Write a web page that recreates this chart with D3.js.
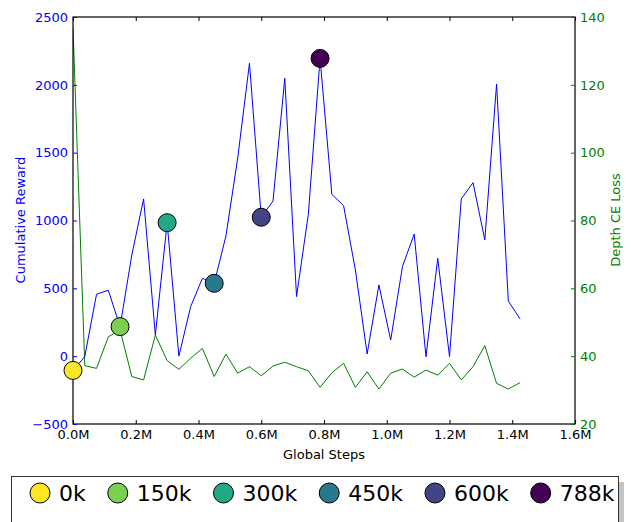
<!DOCTYPE html>
<html>
<head>
<meta charset="utf-8">
<script src="https://cdn.jsdelivr.net/npm/d3@7"></script>
<style>
  html, body { margin: 0; padding: 0; background: #fff; }
  svg { display: block; font-family: "DejaVu Sans", sans-serif; }
</style>
</head>
<body>
<svg id="chart" width="631" height="522"></svg>
<script>
const steps = [0, 37500, 75000, 112500, 150000, 187500, 225000, 262500, 300000, 337500,
  375000, 412500, 450000, 487500, 525000, 562500, 600000, 637500, 675000, 712500,
  750000, 787500, 825000, 862500, 900000, 937500, 975000, 1012500, 1050000, 1087500,
  1125000, 1162500, 1200000, 1237500, 1275000, 1312500, 1350000, 1387500, 1425000];
const rewards = [-105, -3, 456, 486, 218, 746, 1159, 156, 984, 0,
  365, 574, 537, 886, 1461, 2159, 1024, 1144, 2048, 439,
  1045, 2195, 1193, 1109, 636, 16, 525, 119, 660, 900,
  -4, 721, -3, 1159, 1279, 857, 2006, 407, 274];
const losses = [137, 37.2, 36.4, 45.7, 47.7, 34, 33, 46.2, 38.7, 36.1,
  39.4, 42.3, 34, 40.6, 35, 36.9, 34.2, 37.1, 38.2, 36.9,
  35.7, 30.8, 35.1, 37.9, 30.8, 35.4, 30.3, 35, 36.2, 33.8,
  35.9, 34.4, 37.9, 33, 36.9, 43.1, 32, 30.3, 32.2];
const markerSteps = [0, 150000, 300000, 450000, 600000, 787500];
const markerLabels = ["0k", "150k", "300k", "450k", "600k", "788k"];
const markerColors = ["#fde725", "#7ad151", "#22a884", "#2a788e", "#414487", "#440154"];
const xTicks = [0, 200000, 400000, 600000, 800000, 1000000, 1200000, 1400000, 1600000];
const yLeftTicks = [-500, 0, 500, 1000, 1500, 2000, 2500];
const yRightTicks = [20, 40, 60, 80, 100, 120, 140];

const svg = d3.select("#chart");
const L = 73, T = 17, W = 502, H = 407;
const x = d3.scaleLinear().domain([0, 1600000]).range([L, L + W]);
const yL = d3.scaleLinear().domain([-500, 2500]).range([T + H, T]);
const yR = d3.scaleLinear().domain([20, 140]).range([T + H, T]);

svg.append("defs").append("clipPath").attr("id", "clip")
  .append("rect").attr("x", L).attr("y", T).attr("width", W).attr("height", H);

// lines
const g = svg.append("g").attr("clip-path", "url(#clip)");
g.append("path").datum(steps.map((s, i) => [s, losses[i]]))
  .attr("fill", "none").attr("stroke", "#008000").attr("stroke-width", 1)
  .attr("d", d3.line().x(d => x(d[0])).y(d => yR(d[1])));
g.append("path").datum(steps.map((s, i) => [s, rewards[i]]))
  .attr("fill", "none").attr("stroke", "#0000ff").attr("stroke-width", 1)
  .attr("d", d3.line().x(d => x(d[0])).y(d => yL(d[1])));

// frame
svg.append("rect").attr("x", L).attr("y", T).attr("width", W).attr("height", H)
  .attr("fill", "none").attr("stroke", "#000").attr("stroke-width", 1.2);

// axes
const fmtM = d => (d / 1e6).toFixed(1) + "M";
const axB = svg.append("g").attr("transform", `translate(0,${T + H})`)
  .call(d3.axisBottom(x).tickValues(xTicks).tickFormat(fmtM).tickSizeInner(-4).tickSizeOuter(0).tickPadding(6));
const axT = svg.append("g").attr("transform", `translate(0,${T})`)
  .call(d3.axisTop(x).tickValues(xTicks).tickFormat("").tickSizeInner(-4).tickSizeOuter(0));
const axL = svg.append("g").attr("transform", `translate(${L},0)`)
  .call(d3.axisLeft(yL).tickValues(yLeftTicks).tickFormat(d3.format("d")).tickSizeInner(-4).tickSizeOuter(0).tickPadding(5));
const axR = svg.append("g").attr("transform", `translate(${L + W},0)`)
  .call(d3.axisRight(yR).tickValues(yRightTicks).tickFormat(d3.format("d")).tickSizeInner(-4).tickSizeOuter(0).tickPadding(5));

[axB, axT, axL, axR].forEach(a => {
  a.select(".domain").remove();
  a.selectAll("text").attr("font-size", 13).attr("font-family", "DejaVu Sans, sans-serif");
});
axB.selectAll("line").attr("stroke", "#000");
axB.selectAll("text").attr("fill", "#000");
axT.selectAll("line").attr("stroke", "#000");
axL.selectAll("line").attr("stroke", "#0000ff");
axL.selectAll("text").attr("fill", "#0000ff");
axR.selectAll("line").attr("stroke", "#008000");
axR.selectAll("text").attr("fill", "#008000");

// markers
const mData = markerSteps.map((s, i) => ({ s, v: rewards[steps.indexOf(s)], c: markerColors[i] }));
svg.append("g").selectAll("circle").data(mData).join("circle")
  .attr("cx", d => x(d.s)).attr("cy", d => yL(d.v)).attr("r", 9)
  .attr("fill", d => d.c).attr("stroke", "#000").attr("stroke-width", 1);

// axis labels
svg.append("text").attr("transform", "translate(25,220) rotate(-90)")
  .attr("text-anchor", "middle").attr("font-size", 13).attr("fill", "#0000ff")
  .text("Cumulative Reward");
svg.append("text").attr("transform", "translate(620,220) rotate(-90)")
  .attr("text-anchor", "middle").attr("font-size", 13).attr("fill", "#008000")
  .text("Depth CE Loss");
svg.append("text").attr("x", L + W / 2).attr("y", 459)
  .attr("text-anchor", "middle").attr("font-size", 13).attr("fill", "#000")
  .text("Global Steps");

// legend
const lg = svg.append("g");
lg.append("rect").attr("x", 17).attr("y", 482).attr("width", 607).attr("height", 60)
  .attr("fill", "#c4c4c4");
lg.append("rect").attr("x", 11.5).attr("y", 476.5).attr("width", 607).attr("height", 60)
  .attr("fill", "#fff").attr("stroke", "#333").attr("stroke-width", 1);
let cx = 30;
markerLabels.forEach((lab, i) => {
  lg.append("circle").attr("cx", cx + 10).attr("cy", 493).attr("r", 10)
    .attr("fill", markerColors[i]).attr("stroke", "#000").attr("stroke-width", 1);
  const t = lg.append("text").attr("x", cx + 29).attr("y", 501)
    .attr("font-size", 22).attr("fill", "#000").text(lab);
  const w = t.node().getComputedTextLength();
  cx = cx + 29 + w + 22;
});
</script>
</body>
</html>
